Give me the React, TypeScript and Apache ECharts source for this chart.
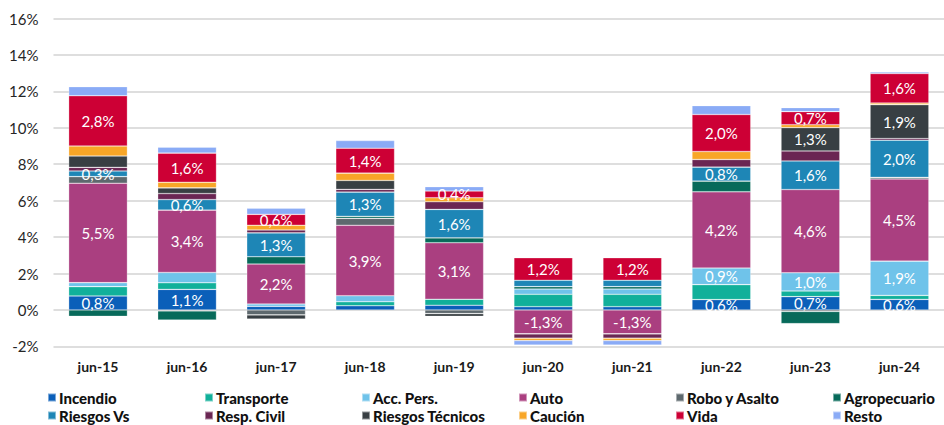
import React, { useEffect, useRef } from "react";
import * as echarts from "echarts";

const categories = ["jun-15", "jun-16", "jun-17", "jun-18", "jun-19", "jun-20", "jun-21", "jun-22", "jun-23", "jun-24"];

const incendio = [0.77, 1.13, 0.2, 0.23, 0.26, 0.18, 0.18, 0.57, 0.73, 0.58];
const transporte = [0.51, 0.36, 0, 0.22, 0.33, 0.68, 0.68, 0.82, 0.31, 0.22];
const accPers = [0.22, 0.57, 0.13, 0.33, 0, 0.29, 0.29, 0.91, 1.0, 1.88];
const auto = [5.46, 3.42, 2.19, 3.87, 3.1, -1.31, -1.31, 4.19, 4.57, 4.51];
const roboAsalto = [0.36, -0.05, -0.27, 0.38, -0.2, 0, 0, 0, -0.08, 0.09];
const agropecuario = [-0.35, -0.5, 0.4, 0.11, 0.27, 0.13, 0.13, 0.58, -0.67, 0];
const riesgosVs = [0.31, 0.58, 1.31, 1.33, 1.56, 0.35, 0.35, 0.77, 1.57, 2.04];
const respCivil = [0.2, 0.33, 0.16, 0.15, 0.42, -0.24, -0.24, 0.42, 0.55, 0.09];
const riesgosTecnicos = [0.62, 0.31, -0.23, 0.49, -0.15, 0, 0, 0, 1.28, 1.86];
const caucion = [0.55, 0.31, 0.26, 0.4, 0.22, -0.13, -0.13, 0.44, 0.16, 0.09];
const vida = [2.76, 1.6, 0.6, 1.37, 0.37, 1.24, 1.24, 2.03, 0.72, 1.62];
const resto = [0.5, 0.33, 0.33, 0.42, 0.24, -0.25, -0.25, 0.49, 0.22, 0.08];

// indices of categories whose segment carries a value label
const ALL = [0, 1, 2, 3, 4, 5, 6, 7, 8, 9];
const labelIncendio = [0, 1, 7, 8, 9];
const labelAccPers = [7, 8, 9];
const labelAuto = ALL;
const labelRiesgosVs = [0, 1, 2, 3, 4, 7, 8, 9];
const labelRiesgosTec = [8, 9];
const labelVida = ALL;

const yTicks = { min: -2, max: 16, interval: 2 };

const seriesDefs = [
  { name: "Incendio", data: incendio, color: "#0b5fb9", labels: labelIncendio },
  { name: "Transporte", data: transporte, color: "#11b09a", labels: [] },
  { name: "Acc. Pers.", data: accPers, color: "#6fc3ea", labels: labelAccPers },
  { name: "Auto", data: auto, color: "#aa3f80", labels: labelAuto },
  { name: "Robo y Asalto", data: roboAsalto, color: "#5e696e", labels: [] },
  { name: "Agropecuario", data: agropecuario, color: "#076a5a", labels: [] },
  { name: "Riesgos Vs", data: riesgosVs, color: "#1e86b6", labels: labelRiesgosVs },
  { name: "Resp. Civil", data: respCivil, color: "#6a2653", labels: [] },
  { name: "Riesgos Técnicos", data: riesgosTecnicos, color: "#383f43", labels: labelRiesgosTec },
  { name: "Caución", data: caucion, color: "#f8a627", labels: [] },
  { name: "Vida", data: vida, color: "#cd0035", labels: labelVida },
  { name: "Resto", data: resto, color: "#8aabf6", labels: [] },
];

const fmt = (v: number) => v.toFixed(1).replace(".", ",") + "%";

export default function App() {
  const ref = useRef<HTMLDivElement>(null);
  useEffect(() => {
    if (!ref.current) return;
    const chart = echarts.init(ref.current, undefined, { renderer: "svg" });
    const legendText = {
      fontFamily: "Lato",
      fontWeight: 900 as const,
      fontSize: 15,
      color: "#111111",
      width: 145,
      lineHeight: 16,
      padding: [0, 0, 0, -2],
    };
    const legendBase = {
      left: 47,
      width: 1000,
      padding: 0,
      itemGap: 0,
      itemWidth: 8,
      itemHeight: 8,
      icon: "rect",
      textStyle: legendText,
    };
    chart.setOption({
      animation: false,
      textStyle: { fontFamily: "Lato" },
      grid: { left: 53.5, right: -6, top: 18.5, bottom: 78.6 },
      legend: [
        { ...legendBase, data: seriesDefs.slice(0, 6).map((s) => s.name), top: 389.5 },
        { ...legendBase, data: seriesDefs.slice(6).map((s) => s.name), top: 407.5 },
      ],
      xAxis: {
        type: "category",
        data: categories,
        axisLine: { show: false },
        axisTick: { show: false },
        axisLabel: {
          fontFamily: "Lato",
          fontWeight: "bold",
          fontSize: 14,
          color: "#1a1a1a",
          margin: 13,
        },
      },
      yAxis: {
        type: "value",
        min: yTicks.min,
        max: yTicks.max,
        interval: yTicks.interval,
        axisLine: { show: false },
        axisTick: { show: false },
        axisLabel: {
          fontFamily: "Lato",
          fontSize: 15,
          color: "#262626",
          margin: 15,
          formatter: (v: number) => `${v}%`,
        },
        splitLine: { lineStyle: { color: "#dedede", width: 2 } },
      },
      series: seriesDefs.map((s) => ({
        name: s.name,
        type: "bar",
        stack: "total",
        barWidth: "66%",
        itemStyle: {
          color: s.color,
          borderColor: "rgba(255,255,255,0.45)",
          borderWidth: 0.6,
        },
        label: {
          show: false,
          position: "inside",
          color: "#ffffff",
          fontFamily: "Lato",
          fontSize: 15,
          formatter: (p: any) => fmt(p.value),
        },
        data: s.data.map((v, i) => ({
          value: v,
          label: { show: s.labels.includes(i) },
        })),
      })),
    });
    return () => chart.dispose();
  }, []);
  return <div ref={ref} style={{ width: 944, height: 425, position: "absolute", left: 0, top: 0 }} />;
}
